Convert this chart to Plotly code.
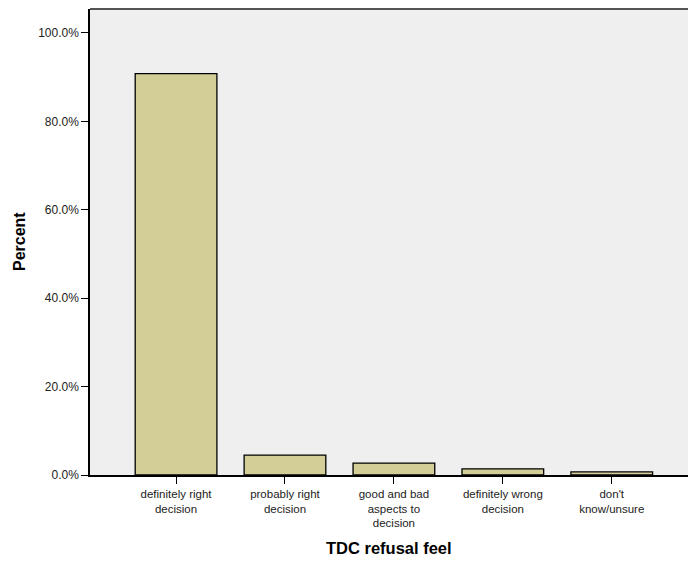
import plotly.graph_objects as go

categories = ["definitely right<br>decision", "probably right<br>decision",
              "good and bad<br>aspects to<br>decision", "definitely wrong<br>decision",
              "don't<br>know/unsure"]
percents = [90.8, 4.5, 2.7, 1.4, 0.7]
y_ticks = [0, 20, 40, 60, 80, 100]
x_title = "TDC refusal feel"
y_title = "Percent"

font_family = "Liberation Sans, Arial, sans-serif"

fig = go.Figure()
fig.add_trace(go.Bar(
    x=list(range(len(categories))), y=percents, width=0.75,
    marker=dict(color="#d3ce97", line=dict(color="#000000", width=1.3)),
))

fig.update_layout(
    width=688, height=561,
    margin=dict(l=90, r=0, t=9, b=86),
    paper_bgcolor="white", plot_bgcolor="#efefef",
    showlegend=False,
    font=dict(family=font_family, size=12, color="#222"),
    xaxis=dict(
        range=[-0.79, 4.70], tickmode="array",
        tickvals=list(range(len(categories))), ticktext=categories,
        ticks="outside", ticklen=7, tickwidth=1.3, tickcolor="#000",
        showline=True, linecolor="#000", linewidth=1.5,
        showgrid=False, zeroline=False,
        tickfont=dict(size=11.5),
    ),
    yaxis=dict(
        range=[0, 105.4], tickmode="array", tickvals=y_ticks,
        ticktext=[f"{v:.1f}%" for v in y_ticks],
        ticks="outside", ticklen=7, tickwidth=1.3, tickcolor="#000",
        showline=True, linecolor="#000", linewidth=1.5,
        showgrid=False, zeroline=False,
        tickfont=dict(size=12),
    ),
)

fig.add_annotation(x=0.5, xref="paper", y=0, yref="paper", text=f"<b>{x_title}</b>",
                   showarrow=False, yanchor="middle", yshift=-73,
                   font=dict(family=font_family, size=16.5, color="#000"))
fig.add_annotation(x=0, xref="paper", y=0.5, yref="paper", text=f"<b>{y_title}</b>",
                   showarrow=False, xanchor="center", xshift=-71, textangle=-90,
                   font=dict(family=font_family, size=16, color="#000"))

fig.add_shape(type="line", xref="paper", yref="paper", x0=0, x1=1, y0=1, y1=1,
              line=dict(color="#555555", width=2))

fig.write_html("out.html", config={"displayModeBar": False},
               post_script="document.body.style.margin='0';document.body.style.overflow='hidden';")
